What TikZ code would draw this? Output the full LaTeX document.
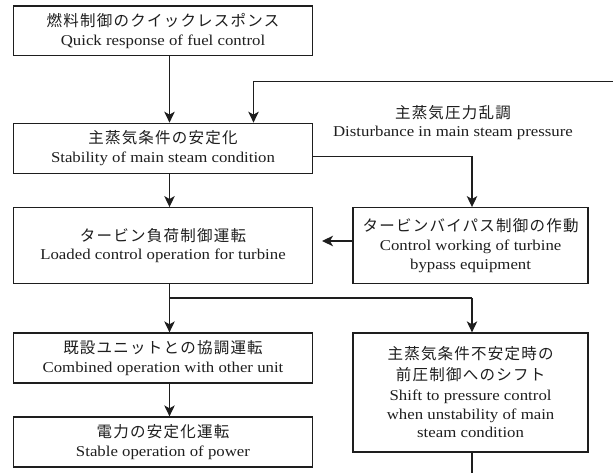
\documentclass[tikz,border=0pt]{standalone}
\usepackage{fontspec}
\setmainfont[FakeStretch=1.12]{Liberation Serif}
\newfontfamily\jpf[LetterSpace=8]{Noto Sans CJK JP}
\newcommand\J{\jpf\fontsize{15.5}{19}\selectfont}
\usetikzlibrary{arrows.meta}
\definecolor{ink}{RGB}{30,30,30}
\tikzset{
  box/.style={draw=ink, text=ink, line width=1.3pt, inner sep=0pt, align=center, anchor=center,
    font=\fontsize{15}{18.5}\selectfont},
  lcol/.style={box, minimum width=299pt},
  rcol/.style={box, minimum width=235pt},
  conn/.style={draw=ink, line width=1.2pt},
  arr/.style={conn, -{Stealth[length=11pt,width=10.5pt,inset=3pt]}},
  lab/.style={text=ink, align=center, inner sep=0pt, font=\fontsize{15}{18.5}\selectfont}
}
\begin{document}
\begin{tikzpicture}[x=1pt,y=-1pt]
\useasboundingbox (0,0) rectangle (613,473);
\fill[white] (0,0) rectangle (613,473);
\node[lcol, minimum height=49.7pt] (b1) at (163,30.9) {\J 燃料制御のクイックレスポンス\\ Quick response of fuel control};
\node[lcol, minimum height=50pt] (b2) at (163,148.3) {\J 主蒸気条件の安定化\\ Stability of main steam condition};
\node[lcol, minimum height=75.6pt] (b3) at (163,245.5) {\J タービン負荷制御運転\\ Loaded control operation for turbine};
\node[rcol, minimum height=75.6pt] (b4) at (470.6,245.5) {\J タービンバイパス制御の作動\\[1pt] Control working of turbine\\ bypass equipment};
\node[lcol, minimum height=50pt] (b5) at (163,358) {\J 既設ユニットとの協調運転\\ Combined operation with other unit};
\node[rcol, minimum height=119pt] (b6) at (470.6,392.5) {\J 主蒸気条件不安定時の\\[2pt] \J 前圧制御へのシフト\\[2pt] Shift to pressure control\\ when unstability of main\\ steam condition};
\node[lcol, minimum height=50pt] (b7) at (163,442) {\J 電力の安定化運転\\ Stable operation of power};
\node[lab] (lbl) at (453,122.5) {\J 主蒸気圧力乱調\\ Disturbance in main steam pressure};
\coordinate (xl) at (169.5,0);
\coordinate (xr) at (472,0);
\coordinate (xf) at (253.5,0);
\coordinate (fb) at (613,81.7);
\coordinate (yb) at (0,156.7);
\coordinate (tip) at (322,241);
\coordinate (br) at (169.5,298);
\coordinate (bot) at (472,473);
\draw[arr] (b1.south -| xl) -- (b2.north -| xl);
\draw[arr] (fb) -| (b2.north -| xf);
\draw[arr] (b2.east |- yb) -| (b4.north -| xr);
\draw[arr] (b2.south -| xl) -- (b3.north -| xl);
\draw[arr] (b4.west |- tip) -- (tip);
\draw[conn] (b3.south -| xl) -- (br) -- (br -| xr);
\draw[arr] (br) -- (b5.north -| xl);
\draw[arr] (br -| xr) -- (b6.north -| xr);
\draw[arr] (b5.south -| xl) -- (b7.north -| xl);
\draw[conn] (b6.south -| xr) -- (bot);
\end{tikzpicture}
\end{document}
